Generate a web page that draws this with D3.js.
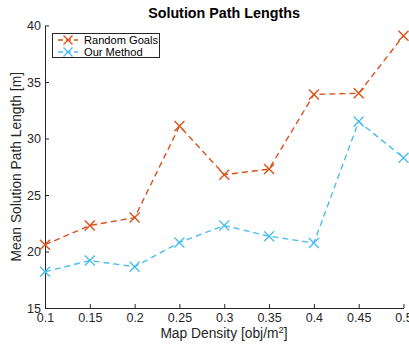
<!DOCTYPE html>
<html>
<head>
<meta charset="utf-8">
<script src="https://cdn.jsdelivr.net/npm/d3@7"></script>
<style>
  html, body { margin: 0; padding: 0; background: #fff; }
  svg { display: block; font-family: "Liberation Sans", Arial, Helvetica, sans-serif; }
</style>
</head>
<body>
<svg id="chart" width="409" height="348"></svg>
<script>
// Map densities (obj/m^2)
const densities = [0.1, 0.15, 0.2, 0.25, 0.3, 0.35, 0.4, 0.45, 0.5];
// Mean solution path length [m] per density
const randomGoals = [20.6, 22.3, 23.0, 31.1, 26.8, 27.3, 33.9, 34.0, 39.1];
const ourMethod   = [18.2, 19.2, 18.65, 20.8, 22.3, 21.35, 20.75, 31.5, 28.3];
const xTicks = [0.1, 0.15, 0.2, 0.25, 0.3, 0.35, 0.4, 0.45, 0.5];
const yTicks = [15, 20, 25, 30, 35, 40];
const seriesNames = ["Random Goals", "Our Method"];
const seriesColors = ["#D95319", "#4DBEEE"];

const svg = d3.select("#chart");
const plotLeft = 45, plotRight = 403.5, plotTop = 25.5, plotBottom = 308;
const axisColor = "#262626";

const x = d3.scaleLinear().domain([0.1, 0.5]).range([plotLeft, plotRight]);
const y = d3.scaleLinear().domain([15, 40]).range([plotBottom, plotTop]);

// Title
svg.append("text")
  .attr("x", 224).attr("y", 18)
  .attr("text-anchor", "middle")
  .attr("font-size", 14.3).attr("font-weight", "bold")
  .attr("fill", "#000")
  .text("Solution Path Lengths");

// Axes with inward ticks
const xAxis = d3.axisBottom(x).tickValues(xTicks).tickSizeInner(-4).tickSizeOuter(0)
  .tickPadding(7).tickFormat(d => String(+d.toFixed(2)));
const yAxis = d3.axisLeft(y).tickValues(yTicks).tickSizeInner(-4).tickSizeOuter(0)
  .tickPadding(7);

const gx = svg.append("g").attr("transform", `translate(0,${plotBottom})`).call(xAxis);
const gy = svg.append("g").attr("transform", `translate(${plotLeft},0)`).call(yAxis);
[gx, gy].forEach(g => {
  g.select(".domain").attr("stroke", axisColor).attr("stroke-width", 1);
  g.selectAll(".tick line").attr("stroke", axisColor).attr("stroke-width", 1);
  g.selectAll(".tick text").attr("fill", axisColor).attr("font-size", 12.5)
    .attr("font-family", "Liberation Sans, Arial, sans-serif");
});
gx.selectAll(".tick text").attr("y", 5).attr("dy", "0.71em");
gy.selectAll(".tick text").attr("x", -4);

// Axis labels
const xl = svg.append("text")
  .attr("x", 224).attr("y", 338)
  .attr("text-anchor", "middle")
  .attr("font-size", 13.8).attr("fill", axisColor);
xl.append("tspan").text("Map Density [obj/m");
xl.append("tspan").attr("dy", -5.5).attr("font-size", 9.5).text("2");
xl.append("tspan").attr("dy", 5.5).text("]");

svg.append("text")
  .attr("transform", `translate(21,${(plotTop + plotBottom) / 2}) rotate(-90)`)
  .attr("text-anchor", "middle")
  .attr("font-size", 13.8).attr("fill", axisColor)
  .text("Mean Solution Path Length [m]");

// Series
const line = d3.line().x(d => x(d[0])).y(d => y(d[1]));
const series = [randomGoals, ourMethod];
const plot = svg.append("g");

function drawX(g, cx, cy, color, r) {
  g.append("path")
    .attr("d", `M${cx - r},${cy - r}L${cx + r},${cy + r}M${cx - r},${cy + r}L${cx + r},${cy - r}`)
    .attr("stroke", color).attr("stroke-width", 1.4).attr("fill", "none");
}

series.forEach((vals, i) => {
  const pts = densities.map((d, j) => [d, vals[j]]);
  plot.append("path")
    .attr("d", line(pts))
    .attr("fill", "none")
    .attr("stroke", seriesColors[i])
    .attr("stroke-width", 1.4)
    .attr("stroke-dasharray", "6,4");
  pts.forEach(p => drawX(plot, x(p[0]), y(p[1]), seriesColors[i], 5));
});

// Legend
const lg = svg.append("g");
lg.append("rect")
  .attr("x", 52.5).attr("y", 33.5).attr("width", 107).attr("height", 24)
  .attr("fill", "#fff").attr("stroke", axisColor).attr("stroke-width", 1);
seriesNames.forEach((name, i) => {
  const cy = 40 + i * 12;
  lg.append("line")
    .attr("x1", 58).attr("x2", 78).attr("y1", cy).attr("y2", cy)
    .attr("stroke", seriesColors[i]).attr("stroke-width", 1.4)
    .attr("stroke-dasharray", "5,3");
  drawX(lg, 68, cy, seriesColors[i], 4.5);
  lg.append("text")
    .attr("x", 84).attr("y", cy + 4)
    .attr("font-size", 11.1).attr("fill", "#000")
    .text(name);
});
</script>
</body>
</html>
